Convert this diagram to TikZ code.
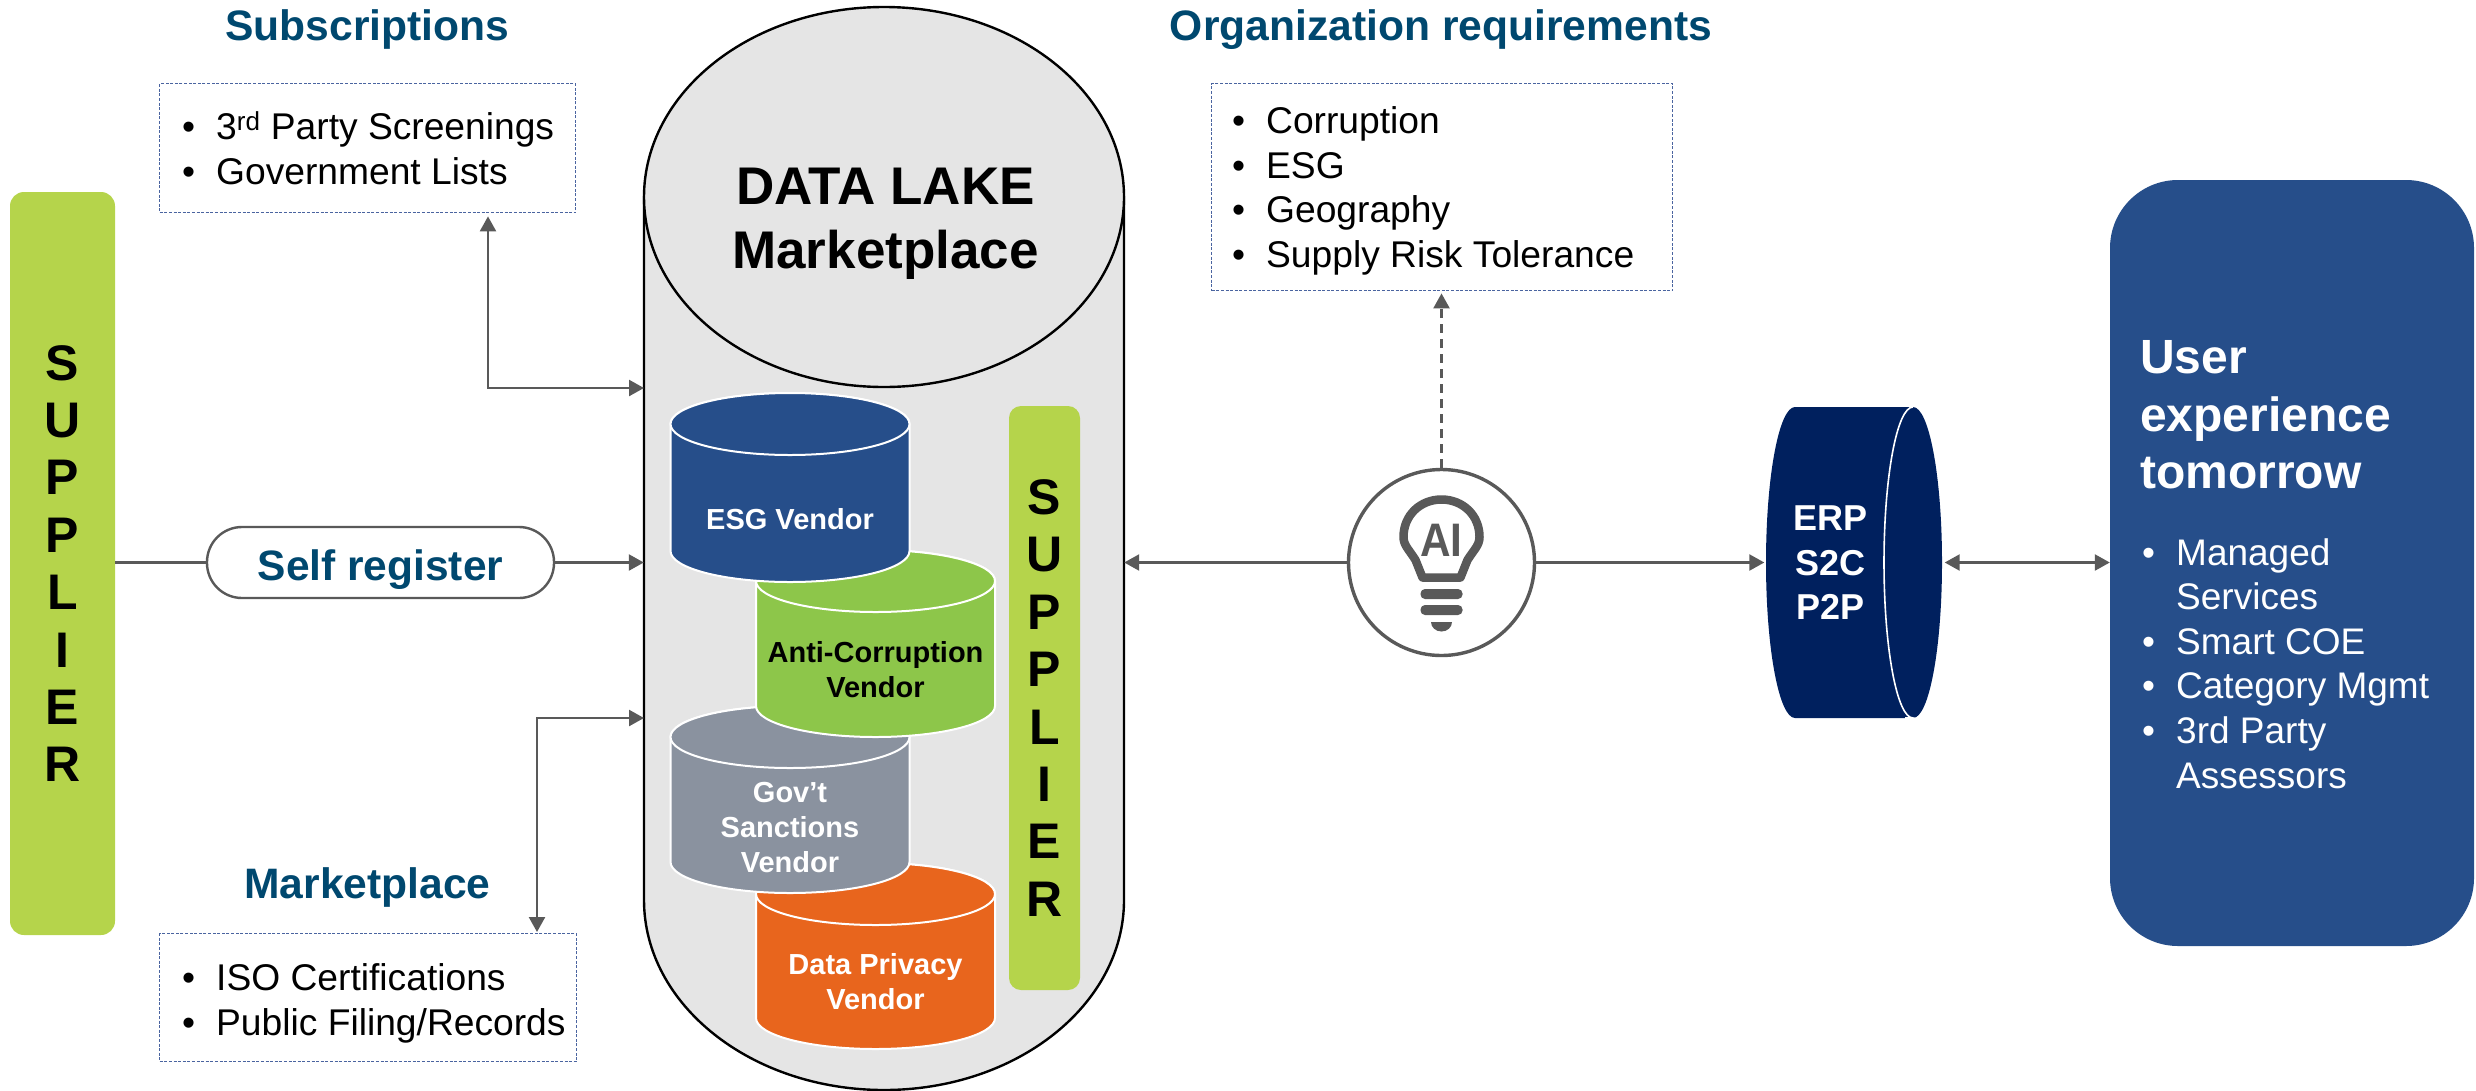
\documentclass[tikz,border=0pt]{standalone}
\usepackage{fontspec}
\setmainfont{Liberation Sans}
\usetikzlibrary{arrows.meta,calc,shapes.geometric}
\definecolor{title}{HTML}{00486F}
\definecolor{lime}{HTML}{B5D44B}
\definecolor{lakefill}{HTML}{E5E5E5}
\definecolor{conn}{HTML}{595959}
\definecolor{bluev}{HTML}{264E8A}
\definecolor{greenv}{HTML}{8DC64A}
\definecolor{grayv}{HTML}{8A929F}
\definecolor{orangev}{HTML}{E8651D}
\definecolor{navy}{HTML}{00205E}
\definecolor{dotc}{HTML}{4A64A0}
\newcommand{\fs}[2]{\fontsize{#1}{#2}\selectfont}
\newcommand{\bul}{\makebox[34pt][l]{\textbullet}}
\newcommand{\nobul}{\makebox[34pt][l]{}}
\newcommand{\vcyl}[9]{% name, x, ytop center, ybot center, color, rx, text, text color, text y
  \path[draw=white,line width=2pt,fill=#5] (#2-#6,#3) -- (#2-#6,#4) arc[start angle=180,end angle=0,x radius=#6,y radius=31] -- (#2+#6,#3) arc[start angle=0,end angle=-180,x radius=#6,y radius=31] -- cycle;
  \path[draw=white,line width=2pt,fill=#5] (#2,#3) ellipse[x radius=#6,y radius=31];
  \node[vendortext,text=#8] (#1) at (#2,#9) {#7};
}
\tikzset{
  conline/.style={draw=conn,line width=2.4pt},
  heading/.style={font=\bfseries\fs{42.6}{50},text=title,inner sep=0pt},
  dotbox/.style={draw=dotc,line width=1.4pt,dash pattern=on 3pt off 1.6pt,fill=white,inner sep=0pt,anchor=north west},
  boxtext/.style={align=flush left,font=\fs{37.2}{45},inner sep=0pt,anchor=west},
  vendortext/.style={font=\bfseries\fs{29}{35},align=center,inner sep=0pt},
  supplierbar/.style={fill=lime,rounded corners=14pt,inner sep=0pt,align=center,text=black,font=\bfseries\fs{50}{57.4}}
}
\begin{document}
\begin{tikzpicture}[x=1pt,y=-1pt]
\path[use as bounding box] (0,0) rectangle (2476,1090);
% supplier
\node[supplierbar,minimum width=105pt,minimum height=743pt] (sup) at (62.5,563.5) {S\\U\\P\\P\\L\\I\\E\\R};
% data lake
\path[fill=lakefill,draw=black,line width=2.4pt] (644,197) -- (644,900) arc[start angle=180,end angle=0,x radius=240,y radius=190] -- (1124,197) -- cycle;
\path[fill=lakefill,draw=black,line width=2.4pt] (884,197) ellipse[x radius=240,y radius=190];
\node[inner sep=0pt,minimum width=480pt,minimum height=1090pt] (lake) at (884,545) {};
\node[font=\bfseries\fs{53}{64},align=center,inner sep=0pt] (laket) at (885.5,224) {DATA LAKE\\Marketplace};
% vendors
\vcyl{dpv}{875.5}{894}{1018}{orangev}{119.5}{Data Privacy\\Vendor}{white}{982}
\vcyl{gov}{790}{737}{862}{grayv}{119.5}{Gov’t\\Sanctions\\Vendor}{white}{828}
\vcyl{acv}{875.5}{581}{706}{greenv}{119.5}{Anti-Corruption\\Vendor}{black}{669.5}
\vcyl{esg}{790}{424}{551}{bluev}{119.5}{ESG Vendor}{white}{519}
\node[supplierbar,minimum width=71pt,minimum height=584pt,rounded corners=12pt] (sup2) at (1044.5,698) {S\\U\\P\\P\\L\\I\\E\\R};
% headings
\node[heading] (hsub) at (367.5,29) {Subscriptions};
\node[heading] (horg) at (1441,30) {Organization requirements};
\node[heading] (hmkt) at (367.5,887) {Marketplace};
% boxes
\node[dotbox,minimum width=416pt,minimum height=129pt] (subs) at (159,83) {};
\node[dotbox,minimum width=417pt,minimum height=128pt] (mkt) at (159,933) {};
\node[dotbox,minimum width=461pt,minimum height=207pt] (org) at (1211,83) {};
\node[boxtext] (subst) at (182,148.5) {\bul 3\textsuperscript{rd} Party Screenings\\\bul Government Lists};
\node[boxtext] (mktt) at (182,1003) {\bul ISO Certifications\\\bul Public Filing/Records};
\node[boxtext,font=\fs{37.2}{44.6}] (orgt) at (1232,191) {\bul Corruption\\\bul ESG\\\bul Geography\\\bul Supply Risk Tolerance};
% self register
\node[draw=conn,line width=2.4pt,fill=white,rounded corners=35pt,minimum width=347pt,minimum height=71pt,inner sep=0pt,font=\bfseries\fs{42.5}{48},text=title] (self) at (380.5,562.5) {\raisebox{-18pt}[0pt][0pt]{Self register}};
% AI circle
\node[circle,draw=conn,line width=3.4pt,fill=white,minimum size=186pt,inner sep=0pt] (ai) at (1441.5,562.5) {};
\begin{scope}[shift={(1441.5,0)}]
  \draw[conn,line width=8.5pt,line join=round] (-19,577.5) -- (-26,560) .. controls (-33,549) and (-38,545) .. (-38,537) .. controls (-38,515) and (-21,499.5) .. (0,499.5) .. controls (21,499.5) and (38,515) .. (38,537) .. controls (38,545) and (33,549) .. (26,560) -- (19,577.5) -- cycle;
  \fill[conn,rounded corners=4.5pt] (-21,589) rectangle (21,599);
  \fill[conn,rounded corners=4.5pt] (-21,605) rectangle (21,615);
  \fill[conn] (-10.5,622) -- (10.5,622) arc[start angle=0,end angle=180,x radius=10.5,y radius=9.5] -- cycle;
  \node[font=\bfseries\fs{47}{47},text=conn,inner sep=0pt,xscale=.9] (aitxt) at (0,540.5) {AI};
\end{scope}
% ERP
\path[fill=navy] (1795,407) arc[start angle=-90,end angle=-270,x radius=29,y radius=155.5] -- (1913,718) arc[start angle=90,end angle=-90,x radius=29,y radius=155.5] -- cycle;
\draw[white,line width=1.6pt] (1913,407) arc[start angle=-90,end angle=-270,x radius=29,y radius=155.5] -- (1905,718);
\node[font=\bfseries\fs{36}{44.5},text=white,align=center,inner sep=0pt] (erp) at (1830,563) {ERP\\S2C\\P2P};
\node[inner sep=0pt,minimum width=176pt,minimum height=311pt] (erpn) at (1854.5,562.5) {};
% user box
\node[fill=bluev,rounded corners=68pt,minimum width=364pt,minimum height=766pt,inner sep=0pt] (user) at (2292,563) {};
\node[font=\bfseries\fs{48}{57.5},text=white,align=flush left,inner sep=0pt,anchor=west] (ut) at (2140,415) {User\\experience\\tomorrow};
\node[font=\fs{37}{44.6},text=white,align=flush left,inner sep=0pt,anchor=north west] (ul) at (2142,538) {\bul Managed\\\nobul Services\\\bul Smart COE\\\bul Category Mgmt\\\bul 3rd Party\\\nobul Assessors};
% connectors
\coordinate (a1) at (644,388);
\coordinate (a2) at (488,388);
\coordinate (b1) at (644,718);
\coordinate (b2) at (537,718);
\draw[conline,{Triangle[length=15pt,width=16pt]}-{Triangle[length=15pt,width=16pt]}] ($(a2 |- subs.south)+(0,3)$) -- (a2) -- (a1);
\draw[conline,{Triangle[length=15pt,width=16pt]}-{Triangle[length=15pt,width=16pt]}] (b1) -- (b2) -- ($(b2 |- mkt.north)+(0,-1)$);
\draw[conline] (sup.east |- self.west) -- (self.west);
\draw[conline,-{Triangle[length=15pt,width=16pt]}] (self.east) -- (lake.west |- self.east);
\draw[conline,-{Triangle[length=15pt,width=16pt]}] (ai.west) -- (lake.east |- ai.west);
\draw[conline,-{Triangle[length=15pt,width=16pt]}] (ai.east) -- ($(erpn.west |- ai.east)+(-2,0)$);
\draw[conline,{Triangle[length=15pt,width=16pt]}-{Triangle[length=15pt,width=16pt]}] ($(erpn.east |- ai.east)+(2,0)$) -- (user.west |- ai.east);
\draw[conline,dash pattern=on 9pt off 6pt,-{Triangle[length=15pt,width=16pt]}] (ai.north) -- ($(ai.north |- org.south)+(0,2)$);
\end{tikzpicture}
\end{document}
